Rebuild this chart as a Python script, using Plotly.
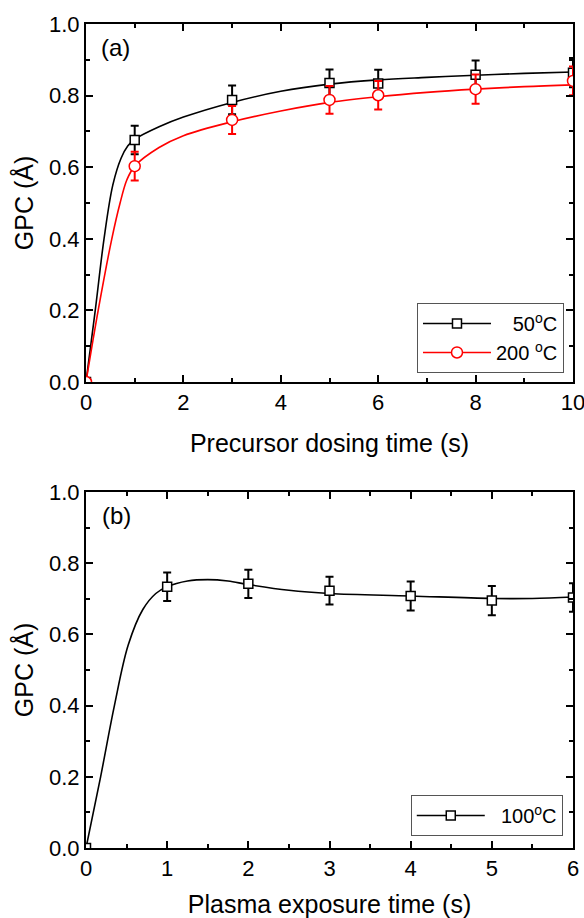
import plotly.graph_objects as go

# (a) precursor dosing, measured points
dose_t = [0, 1, 3, 5, 6, 8, 10]
gpc_50 = [0, 0.676, 0.788, 0.835, 0.834, 0.858, 0.864]
err_50 = [0, 0.04, 0.04, 0.038, 0.038, 0.04, 0.041]
gpc_200 = [0, 0.603, 0.732, 0.788, 0.801, 0.818, 0.841]
err_200 = [0, 0.04, 0.039, 0.039, 0.04, 0.041, 0.04]

# (a) fitted curves
fit50_t = [0, 0.19, 0.37, 0.55, 0.72, 0.86, 1, 1.5, 2, 3, 4, 5, 6, 7, 8, 9, 10]
fit50_y = [0, 0.2, 0.4, 0.55, 0.625, 0.66, 0.678, 0.713, 0.74, 0.781, 0.812,
           0.832, 0.844, 0.851, 0.857, 0.862, 0.866]
fit200_t = [0, 0.25, 0.53, 0.7, 0.84, 1, 1.5, 2, 3, 4, 5, 6, 7, 8, 9, 10]
fit200_y = [0, 0.2, 0.4, 0.5, 0.565, 0.603, 0.655, 0.688, 0.727, 0.757,
            0.781, 0.797, 0.809, 0.818, 0.825, 0.83]

# (b) plasma exposure
plasma_t = [0, 1, 2, 3, 4, 5, 6]
gpc_100 = [0, 0.734, 0.742, 0.723, 0.708, 0.695, 0.704]
err_100 = [0, 0.04, 0.04, 0.039, 0.041, 0.041, 0.04]
fit100_t = [0, 0.18, 0.35, 0.52, 0.7, 0.86, 1, 1.25, 1.5, 1.75,
            2, 2.5, 3, 4, 5, 5.5, 6]
fit100_y = [0, 0.2, 0.4, 0.57, 0.67, 0.715, 0.734, 0.75, 0.754, 0.75,
            0.74, 0.724, 0.715, 0.708, 0.701, 0.701, 0.705]

FONT = "Liberation Sans, Arial, sans-serif"
NB = "\u00a0"

fig = go.Figure()

# curves
fig.add_trace(go.Scatter(x=fit50_t, y=fit50_y, mode="lines", line_shape="spline",
                         line=dict(color="black", width=1.6), showlegend=False,
                         xaxis="x", yaxis="y", hoverinfo="skip"))
fig.add_trace(go.Scatter(x=fit200_t, y=fit200_y, mode="lines", line_shape="spline",
                         line=dict(color="red", width=1.6), showlegend=False,
                         xaxis="x", yaxis="y", hoverinfo="skip"))
fig.add_trace(go.Scatter(x=fit100_t, y=fit100_y, mode="lines", line_shape="spline",
                         line=dict(color="black", width=1.6), showlegend=False,
                         xaxis="x2", yaxis="y2", hoverinfo="skip"))

# points with error bars
fig.add_trace(go.Scatter(x=dose_t, y=gpc_50, mode="markers", showlegend=False,
                         marker=dict(symbol="square", size=9, color="white",
                                     line=dict(color="black", width=1.5)),
                         error_y=dict(type="data", array=err_50, color="black",
                                      thickness=2, width=4),
                         xaxis="x", yaxis="y"))
fig.add_trace(go.Scatter(x=dose_t, y=gpc_200, mode="markers", showlegend=False,
                         marker=dict(symbol="circle", size=11, color="white",
                                     line=dict(color="red", width=1.5)),
                         error_y=dict(type="data", array=err_200, color="red",
                                      thickness=2, width=4),
                         xaxis="x", yaxis="y"))
fig.add_trace(go.Scatter(x=plasma_t, y=gpc_100, mode="markers", showlegend=False,
                         marker=dict(symbol="square", size=9, color="white",
                                     line=dict(color="black", width=1.5)),
                         error_y=dict(type="data", array=err_100, color="black",
                                      thickness=2, width=4),
                         xaxis="x2", yaxis="y2"))

# legend entries (line through marker)
fig.add_trace(go.Scatter(x=[None], y=[None], mode="lines+markers",
                         name=NB * 3 + "50<sup>o</sup>C",
                         line=dict(color="black", width=1.6),
                         marker=dict(symbol="square", size=9, color="white",
                                     line=dict(color="black", width=1.5)),
                         xaxis="x", yaxis="y", legend="legend"))
fig.add_trace(go.Scatter(x=[None], y=[None], mode="lines+markers",
                         name="200 <sup>o</sup>C",
                         line=dict(color="red", width=1.6),
                         marker=dict(symbol="circle", size=11, color="white",
                                     line=dict(color="red", width=1.5)),
                         xaxis="x", yaxis="y", legend="legend"))
fig.add_trace(go.Scatter(x=[None], y=[None], mode="lines+markers",
                         name=NB * 2 + "100<sup>o</sup>C",
                         line=dict(color="black", width=1.6),
                         marker=dict(symbol="square", size=9, color="white",
                                     line=dict(color="black", width=1.5)),
                         xaxis="x2", yaxis="y2", legend="legend2"))

# automargin off: the "10" label may run past the right edge, as in the original
axis_style = dict(
    showline=True, linecolor="black", linewidth=2, mirror="ticks",
    ticks="inside", ticklen=7, tickwidth=2, tickcolor="black",
    showgrid=False, zeroline=False, automargin=False,
    ticklabeloverflow="allow",
    tickfont=dict(family=FONT, size=22, color="black"),
)
minor_style = dict(ticks="inside", ticklen=4, tickwidth=2, tickcolor="black")
title_font = dict(family=FONT, size=25, color="black")

fig.update_layout(
    width=584, height=918,
    margin=dict(l=86, r=11, t=24, b=70, autoexpand=False),
    paper_bgcolor="white", plot_bgcolor="white",
    font=dict(family=FONT, color="black"),
    xaxis=dict(domain=[0, 1], anchor="y", range=[0, 10], dtick=2,
               minor=dict(dtick=1, **minor_style),
               title=dict(text="Precursor dosing time (s)", standoff=20,
                          font=title_font),
               **axis_style),
    yaxis=dict(domain=[0.5655, 1], anchor="x", range=[0, 1], dtick=0.2,
               tickformat=".1f",
               minor=dict(dtick=0.1, **minor_style),
               title=dict(text="GPC (Å)", standoff=8, font=title_font),
               **axis_style),
    xaxis2=dict(domain=[0, 1], anchor="y2", range=[0, 6], dtick=1,
                minor=dict(dtick=0.5, **minor_style),
                title=dict(text="Plasma exposure time (s)", standoff=22,
                           font=title_font),
                **axis_style),
    yaxis2=dict(domain=[0, 0.432], anchor="x2", range=[0, 1], dtick=0.2,
                tickformat=".1f",
                minor=dict(dtick=0.1, **minor_style),
                title=dict(text="GPC (Å)", standoff=8, font=title_font),
                **axis_style),
    legend=dict(x=0.9815, y=0.5765, xanchor="right", yanchor="bottom",
                bgcolor="white", bordercolor="#555555", borderwidth=1,
                itemwidth=68, font=dict(family=FONT, size=20, color="black")),
    legend2=dict(x=0.979, y=0.0146, xanchor="right", yanchor="bottom",
                 bgcolor="white", bordercolor="#555555", borderwidth=1,
                 itemwidth=68, font=dict(family=FONT, size=20, color="black")),
    annotations=[
        dict(text="(a)", x=0.06, y=0.972, xref="paper", yref="paper",
             showarrow=False, xanchor="center", yanchor="middle",
             font=dict(family=FONT, size=24, color="black")),
        dict(text="(b)", x=0.062, y=0.404, xref="paper", yref="paper",
             showarrow=False, xanchor="center", yanchor="middle",
             font=dict(family=FONT, size=24, color="black")),
    ],
)

# no page margin or scrollbars, so the figure fills the window exactly
page_js = (
    "document.body.style.margin='0';"
    "document.body.style.overflow='hidden';"
    "document.documentElement.style.overflow='hidden';"
)
fig.write_html("out.html", post_script=page_js,
               config={"displayModeBar": False})
